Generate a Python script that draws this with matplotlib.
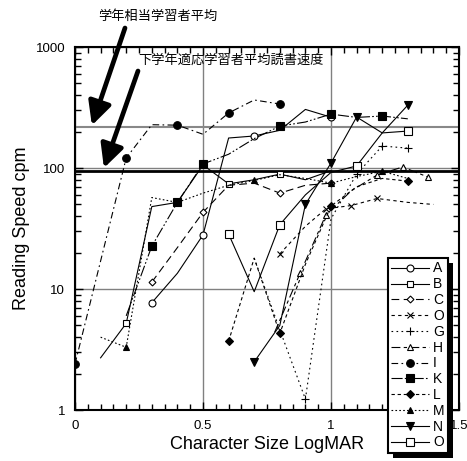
import matplotlib
matplotlib.use('Agg')
import matplotlib.pyplot as plt
from matplotlib.patches import Rectangle
from matplotlib.transforms import IdentityTransform
from matplotlib.ticker import FixedLocator, LogLocator, NullFormatter, MultipleLocator

plt.rcParams['font.family'] = ['Liberation Sans', 'Noto Sans CJK JP', 'DejaVu Sans']

# ---- data (LogMAR, cpm) ----
a_x = [0.3, 0.4, 0.5, 0.6, 0.7, 0.8, 0.9, 1.0]
a_y = [7.7, 13.5, 28, 177, 184, 205, 305, 263]
a_mk = [0, 2, 4, 7]

b_x = [0.1, 0.2, 0.3, 0.4, 0.5, 0.6, 0.7, 0.8, 0.9, 1.0]
b_y = [2.7, 5.2, 48, 52, 106, 74, 80, 89, 80, 95]
b_mk = [1, 5, 7]

c_x = [0.3, 0.4, 0.5, 0.6, 0.7, 0.8, 0.9, 1.0]
c_y = [11.4, 22, 43, 72, 75, 62, 72, 75]
c_mk = [0, 2, 5, 7]

o1_x = [0.8, 0.9, 0.98, 1.08, 1.18, 1.3, 1.4]
o1_y = [19.5, 33, 46, 49, 56, 52, 50]
o1_mk = [0, 2, 3, 4]

g_x = [0.7, 0.8, 0.9, 1.0, 1.1, 1.2, 1.3]
g_y = [18, 4.6, 1.23, 38, 89, 152, 146]
g_mk = [2, 4, 5, 6]

h_x = [0.78, 0.88, 0.98, 1.08, 1.18, 1.28, 1.38]
h_y = [4.4, 13.6, 41, 65, 87.5, 102, 84]
h_mk = [1, 2, 4, 5, 6]

i_x = [0.0, 0.2, 0.3, 0.4, 0.5, 0.6, 0.7, 0.8]
i_y = [2.4, 121, 228, 226, 190, 285, 365, 338]
i_mk = [0, 1, 3, 5, 7]

k_x = [0.2, 0.3, 0.4, 0.5, 0.6, 0.7, 0.8, 0.9, 1.0, 1.1, 1.2, 1.3]
k_y = [6, 22.6, 52, 108, 130, 175, 222, 240, 279, 262, 269, 255]
k_mk = [1, 2, 3, 6, 8, 10]

l_x = [0.6, 0.7, 0.8, 0.9, 1.0, 1.1, 1.2, 1.3]
l_y = [3.7, 18, 4.3, 16, 48.5, 70, 82, 78]
l_mk = [0, 2, 4, 7]

m_x = [0.1, 0.2, 0.3, 0.4, 0.5, 0.6, 0.7, 0.8, 0.9, 1.0, 1.1, 1.2, 1.3]
m_y = [4.0, 3.3, 57, 52, 62, 72, 79, 88, 82, 75, 85, 94, 82]
m_mk = [1, 3, 6, 9, 11]

n_x = [0.7, 0.8, 0.9, 1.0, 1.1, 1.2, 1.3]
n_y = [2.5, 5.0, 50, 110, 264, 195, 331]
n_mk = [0, 2, 3, 4, 6]

o2_x = [0.6, 0.7, 0.8, 0.9, 1.0, 1.1, 1.2, 1.3]
o2_y = [28.5, 9.5, 34, 60, 92, 104, 195, 202]
o2_mk = [0, 2, 5, 7]

labels = ['A', 'B', 'C', 'O', 'G', 'H', 'I', 'K', 'L', 'M', 'N', 'O']
series = [(a_x, a_y, a_mk), (b_x, b_y, b_mk), (c_x, c_y, c_mk), (o1_x, o1_y, o1_mk),
          (g_x, g_y, g_mk), (h_x, h_y, h_mk), (i_x, i_y, i_mk), (k_x, k_y, k_mk),
          (l_x, l_y, l_mk), (m_x, m_y, m_mk), (n_x, n_y, n_mk), (o2_x, o2_y, o2_mk)]

grade_avg = 218      # 学年相当学習者平均
lower_avg = 95       # 下学年適応学習者平均読書速度

# line / marker styles per series
styles = [
    dict(ls='-', marker='o', mfc='white', ms=5),
    dict(ls='-', marker='s', mfc='white', ms=4.5),
    dict(ls=(0, (7, 4)), marker='D', mfc='white', ms=3.5),
    dict(ls=(0, (3, 3)), marker='x', ms=5),
    dict(ls=(0, (1.5, 3)), marker='+', ms=6),
    dict(ls=(0, (8, 3, 3, 3)), marker='^', mfc='white', ms=5),
    dict(ls=(0, (6, 3, 1.5, 3)), marker='o', mfc='black', ms=5.5),
    dict(ls=(0, (10, 2, 1.5, 2, 1.5, 2)), marker='s', mfc='black', ms=6),
    dict(ls=(0, (3, 2.5)), marker='D', mfc='black', ms=4),
    dict(ls=(0, (1.5, 2)), marker='^', mfc='black', ms=5),
    dict(ls='-', marker='v', mfc='black', ms=5.5),
    dict(ls='-', marker='s', mfc='white', ms=5.5),
]

fig = plt.figure(figsize=(4.67, 4.61), dpi=100)
ax = fig.add_axes([0.1606, 0.1106, 0.8223, 0.7874])

handles = []
for (x, y, mk), st, lab in zip(series, styles, labels):
    h, = ax.plot(x, y, color='black', lw=0.8, mec='black', mew=0.8,
                 markevery=mk, label=lab, zorder=3, **st)
    handles.append(h)

ax.axhline(grade_avg, color='#888888', lw=1.5, zorder=2)
ax.axhline(lower_avg, color='black', lw=2, zorder=2)

ax.set_yscale('log')
ax.set_xlim(0, 1.5)
ax.set_ylim(1, 1000)
ax.xaxis.set_major_locator(FixedLocator([0, 0.5, 1, 1.5]))
ax.xaxis.set_minor_locator(MultipleLocator(0.05))
ax.set_xticklabels(['0', '0.5', '1', '1.5'])
ax.yaxis.set_major_locator(FixedLocator([1, 10, 100, 1000]))
ax.set_yticklabels(['1', '10', '100', '1000'])
ax.yaxis.set_minor_locator(LogLocator(base=10, subs=range(2, 10)))
ax.yaxis.set_minor_formatter(NullFormatter())
ax.tick_params(which='both', direction='in', top=True, right=True, labelsize=9.5, width=1)
ax.tick_params(which='major', length=6, pad=7)
ax.tick_params(which='minor', length=4)
ax.grid(True, which='major', color='#808080', lw=1, zorder=1)
for sp in ax.spines.values():
    sp.set_linewidth(1.5)

ax.set_xlabel('Character Size LogMAR', fontsize=13, labelpad=3)
ax.set_ylabel('Reading Speed cpm', fontsize=13, labelpad=4)

# arrows and annotations
arrow = dict(arrowstyle='-|>,head_length=1.0,head_width=0.5', lw=3.4, color='black',
             shrinkA=0, shrinkB=0, mutation_scale=14)
ax.annotate('', xy=(0.066, 225), xytext=(125, 433), textcoords='figure pixels',
            arrowprops=arrow, annotation_clip=False)
ax.annotate('', xy=(0.113, 100), xytext=(138, 390), textcoords='figure pixels',
            arrowprops=arrow, annotation_clip=False)
fig.text(158 / 467, 1 - 17 / 461, '学年相当学習者平均', ha='center', va='center', fontsize=9.5)
fig.text(231 / 467, 1 - 60 / 461, '下学年適応学習者平均読書速度', ha='center', va='center', fontsize=9.5)

leg = ax.legend(handles=handles, loc='upper left', bbox_to_anchor=(388 / 467, 1 - 258 / 461),
                bbox_transform=fig.transFigure, borderaxespad=0, fontsize=10,
                handlelength=2.7, handletextpad=0.3, labelspacing=0.13, borderpad=0.25,
                handleheight=0.6, frameon=True, fancybox=False, framealpha=1, edgecolor='black')
leg.get_frame().set_linewidth(1.5)
leg.set_zorder(6)

fig.canvas.draw()
bb = leg.get_window_extent()
ax.add_patch(Rectangle((bb.x0 + 5, bb.y0 - 5), bb.width, bb.height, transform=IdentityTransform(),
                       facecolor='black', edgecolor='none', zorder=5.9, clip_on=False))

fig.savefig('out.png', dpi=100)
